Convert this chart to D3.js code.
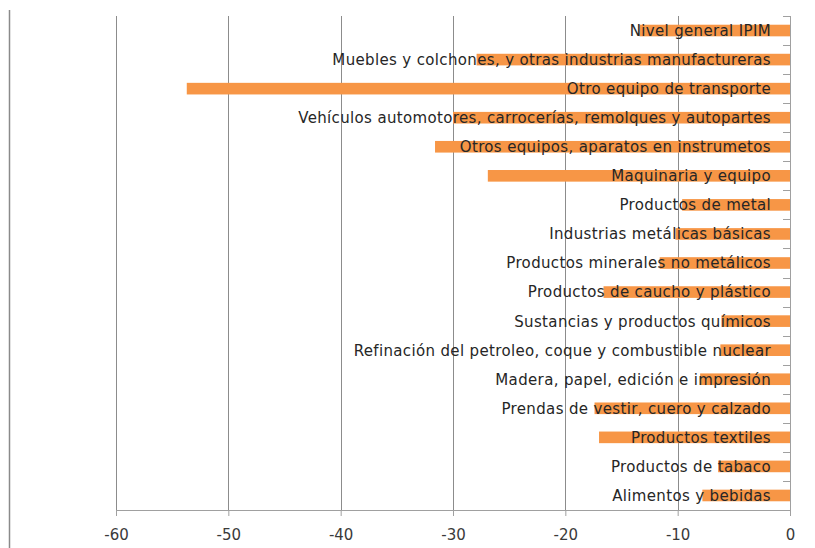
<!DOCTYPE html>
<html><head><meta charset="utf-8">
<script src="https://cdn.jsdelivr.net/npm/d3@7"></script>
<style>body{margin:0;background:#fff}svg{display:block}</style>
</head><body>
<svg id="c" width="815" height="548"></svg>
<script>
const categories = [
  "Nivel general IPIM",
  "Muebles y colchones, y otras industrias manufactureras",
  "Otro equipo de transporte",
  "Vehículos automotores, carrocerías, remolques y autopartes",
  "Otros equipos, aparatos en instrumetos",
  "Maquinaria y equipo",
  "Productos de metal",
  "Industrias metálicas básicas",
  "Productos minerales no metálicos",
  "Productos de caucho y plástico",
  "Sustancias y productos químicos",
  "Refinación del petroleo, coque y combustible nuclear",
  "Madera, papel, edición e impresión",
  "Prendas de vestir, cuero y calzado",
  "Productos textiles",
  "Productos de tabaco",
  "Alimentos y bebidas"
];
const values = [-13.4, -27.9, -53.7, -30.0, -31.6, -26.9, -9.6, -10.2, -11.6, -16.6, -6.1, -6.2, -8.0, -17.4, -17.0, -6.4, -7.8];
const xTicks = [-60, -50, -40, -30, -20, -10, 0];

const svg = d3.select("#c");
const m = {left:116, right:790, top:16, bottom:510};
const x = d3.scaleLinear().domain([-60, 0]).range([m.left, m.right]);
const y = d3.scaleBand().domain(categories).range([m.top, m.bottom]).paddingInner(0.6).paddingOuter(0.3);
const yb = d3.scaleBand().domain(categories).range([m.top, m.bottom]);

// left frame line
svg.append("line").attr("x1",9.5).attr("x2",9.5).attr("y1",10).attr("y2",548)
  .attr("stroke","#8a8a8a").attr("stroke-width",1.5);

// gridlines
svg.append("g").selectAll("line").data(xTicks.filter(d=>d!==0)).join("line")
  .attr("x1",d=>Math.round(x(d))+0.5).attr("x2",d=>Math.round(x(d))+0.5)
  .attr("y1",m.top).attr("y2",m.bottom)
  .attr("stroke","#8c8c8c").attr("stroke-width",1);

// bars
svg.append("g").selectAll("rect").data(values).join("rect")
  .attr("x",(d)=>x(d)).attr("width",d=>x(0)-x(d))
  .attr("y",(d,i)=>y(categories[i])).attr("height",y.bandwidth())
  .attr("fill","#F79646");

// x axis
const xa = svg.append("g").attr("transform",`translate(0,${m.bottom})`)
  .call(d3.axisBottom(x).tickValues(xTicks).tickSize(6).tickSizeOuter(0).tickFormat(d3.format("d")));
xa.select(".domain").attr("stroke","#a0a0a0");
xa.selectAll(".tick line").attr("stroke","#a0a0a0");
xa.selectAll(".tick text").attr("font-family","DejaVu Sans").attr("font-size",15)
  .attr("fill","#3a3a3a").attr("y",16).attr("dy","0.9em").text(d=>d3.format("d")(d).replace("−","-"));

// right category axis
const ya = svg.append("g").attr("transform",`translate(${m.right},0)`);
ya.append("line").attr("x1",0.5).attr("x2",0.5).attr("y1",m.top).attr("y2",m.bottom+6).attr("stroke","#a0a0a0");
const bounds = categories.map(c=>yb(c)).concat([m.bottom]);
ya.selectAll("line.t").data(bounds).join("line").attr("class","t")
  .attr("x1",-7).attr("x2",0.5).attr("y1",d=>Math.round(d)+0.5).attr("y2",d=>Math.round(d)+0.5)
  .attr("stroke","#a0a0a0");

// labels
svg.append("g").selectAll("text").data(categories).join("text")
  .attr("x",771).attr("y",d=>y(d)+y.bandwidth()/2).attr("dy","0.36em")
  .attr("text-anchor","end").attr("font-family","DejaVu Sans")
  .attr("letter-spacing","0.35px")
  .attr("font-size",15).attr("fill","#262626").text(d=>d);
</script>
</body></html>
